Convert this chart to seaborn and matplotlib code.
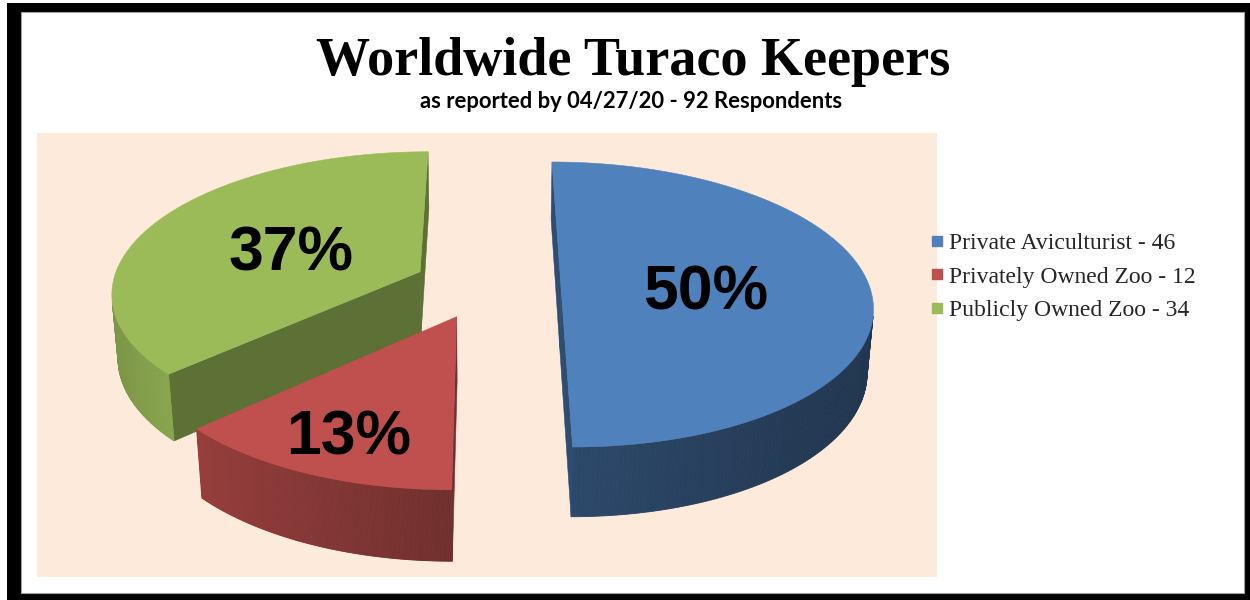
import numpy as np
import pandas as pd
import matplotlib
matplotlib.use("Agg")
import matplotlib.pyplot as plt
import seaborn as sns
from matplotlib.patches import Polygon, Rectangle
from matplotlib.lines import Line2D
from matplotlib.colors import to_rgb
from matplotlib.transforms import offset_copy

# ---- data -------------------------------------------------------------
categories = ["Private Aviculturist", "Privately Owned Zoo", "Publicly Owned Zoo"]
counts = [46, 12, 34]
slice_colors = ["#4F81BD", "#C0504D", "#9BBB59"]
title = "Worldwide Turaco Keepers"
subtitle = "as reported by 04/27/20 - 92 Respondents"

df = pd.DataFrame({"category": categories, "count": counts, "color": slice_colors})
df["share"] = df["count"] / df["count"].sum()

# ---- 3-D pie styling ----------------------------------------------------
TILT = np.radians(27.0)      # camera elevation
DIST = 6.51                  # camera distance in pie radii
EXPLODE = 0.24               # slice explosion (radii)
THICK = 0.233                # pie thickness (radii)
START = 90.0                 # first slice starts at 12 o'clock, clockwise
# wall shading (left -> right on screen) and label radius per slice
wall_shade = [(0.56, 0.42), (0.78, 0.58), (0.80, 0.88)]
label_radius = [0.47, 0.75, 0.48]
CUT_SHADE = 0.60

ct, st = np.cos(TILT), np.sin(TILT)
camera = np.array([0.0, -DIST * ct, DIST * st])


def project(X, Y, Z):
    depth = DIST + Y * ct - Z * st
    return DIST * X / depth, DIST * (Y * st + Z * ct) / depth


def shade(color, f):
    r, g, b = to_rgb(color)
    return (r * f, g * f, b * f)


sns.set_theme(style="white")
plt.rcParams["font.family"] = ["Liberation Sans", "DejaVu Sans"]

W, H = 1250, 600
fig = plt.figure(figsize=(W / 100, H / 100), dpi=100)
fig.patch.set_facecolor("white")


def fx(px):
    return px / W


def fy(py):
    return 1 - py / H


# frame
fig.add_artist(Rectangle((fx(7), fy(600)), fx(1250) - fx(7), fy(3) - fy(600),
                         transform=fig.transFigure, facecolor="black",
                         edgecolor="none", zorder=-3))
fig.add_artist(Rectangle((fx(20.5), fy(593)), fx(1243.5) - fx(20.5), fy(12) - fy(593),
                         transform=fig.transFigure, facecolor="white",
                         edgecolor="#a0a0a0", linewidth=0.8, zorder=-2))

# plot area
SCALE = 308.0
CX, CY = 487.0, 285.0
ax = fig.add_axes([fx(37), fy(577), fx(937) - fx(37), fy(133) - fy(577)])
ax.set_facecolor("#FDEADA")
ax.set_xlim((37 - CX) / SCALE, (937 - CX) / SCALE)
ax.set_ylim(-(577 - CY) / SCALE, (CY - 133) / SCALE)
ax.set_xticks([])
ax.set_yticks([])
for sp in ax.spines.values():
    sp.set_visible(False)

# slice geometry
angles = []
a = START
for share in df["share"]:
    a0 = a
    a1 = a - 360.0 * share
    angles.append((a0, a1))
    a = a1

slices = []
for i, (a0, a1) in enumerate(angles):
    mid = np.radians((a0 + a1) / 2)
    off = np.array([EXPLODE * np.cos(mid), EXPLODE * np.sin(mid)])
    slices.append((i, a0, a1, mid, off))

# paint from back to front
order = sorted(slices, key=lambda s: -s[4][1])
z = 2
for i, a0, a1, mid, off in order:
    col = df["color"][i]
    ox, oy = off
    # radial cut faces
    for ang, nrm in ((a0, a0 + 90.0), (a1, a1 - 90.0)):
        r = np.radians(ang)
        n = np.radians(nrm)
        p = np.array([ox + 0.5 * np.cos(r), oy + 0.5 * np.sin(r), -THICK / 2])
        if np.dot([np.cos(n), np.sin(n), 0], camera - p) > 0:
            ex, ey = ox + np.cos(r), oy + np.sin(r)
            pts = [project(ox, oy, 0), project(ex, ey, 0),
                   project(ex, ey, -THICK), project(ox, oy, -THICK)]
            ax.add_patch(Polygon(pts, closed=True, facecolor=shade(col, CUT_SHADE),
                                 edgecolor=shade(col, CUT_SHADE), linewidth=0.4, zorder=z))
    z += 1
    # outer wall
    t = np.radians(np.linspace(a1, a0, 240))
    px = ox + np.cos(t)
    py = oy + np.sin(t)
    vis = np.array([np.dot([np.cos(tt), np.sin(tt), 0],
                           camera - np.array([x, y, -THICK / 2])) > 0
                    for tt, x, y in zip(t, px, py)])
    quads = []
    for k in range(len(t) - 1):
        if vis[k] and vis[k + 1]:
            q = [project(px[k], py[k], 0), project(px[k + 1], py[k + 1], 0),
                 project(px[k + 1], py[k + 1], -THICK), project(px[k], py[k], -THICK)]
            quads.append(q)
    if quads:
        xs = np.array([np.mean([p[0] for p in q]) for q in quads])
        xmin, xmax = xs.min(), xs.max()
        fl, fr = wall_shade[i]
        for q, xm in zip(quads, xs):
            u = 0 if xmax == xmin else (xm - xmin) / (xmax - xmin)
            c = shade(col, fl + (fr - fl) * u)
            ax.add_patch(Polygon(q, closed=True, facecolor=c, edgecolor=c,
                                 linewidth=0.6, zorder=z))
    z += 1
    # top face
    tt = np.radians(np.linspace(a0, a1, 240))
    top = [project(ox, oy, 0)] + [project(ox + np.cos(v), oy + np.sin(v), 0) for v in tt]
    ax.add_patch(Polygon(top, closed=True, facecolor=col, edgecolor=col,
                         linewidth=0.4, zorder=z))
    z += 1

# percentage labels
label_tf = offset_copy(ax.transData, fig=fig, x=0, y=-8, units="dots")
for i, a0, a1, mid, off in slices:
    rr = label_radius[i]
    lx, ly = project(off[0] + rr * np.cos(mid), off[1] + rr * np.sin(mid), 0)
    ax.text(lx, ly, f"{df['share'][i] * 100:.0f}%", ha="center", va="center",
            fontsize=45, fontweight="bold", color="black", transform=label_tf,
            family=["Liberation Sans", "DejaVu Sans"], zorder=50)

# titles
fig.text(fx(633), fy(75), title, ha="center", va="baseline", fontsize=39,
         fontweight="bold", family=["Liberation Serif", "DejaVu Serif"], color="black")
fig.text(fx(631), fy(108), subtitle, ha="center", va="baseline", fontsize=15.8,
         fontweight="bold", family=["Lato", "DejaVu Sans"], color="black")

# legend
handles = [Line2D([], [], marker="s", linestyle="", markersize=7.5,
                  markerfacecolor=c, markeredgecolor=c) for c in df["color"]]
labels = [f"{c} - {n}" for c, n in zip(df["category"], df["count"])]
fig.legend(handles, labels, loc="center left", bbox_to_anchor=(fx(930), fy(277)),
           frameon=False, handlelength=0.6, handletextpad=0.2, borderpad=0,
           borderaxespad=0, labelspacing=0.5,
           prop={"family": ["Liberation Serif", "DejaVu Serif"], "size": 17})

fig.savefig("out.png", dpi=100, facecolor="white")
